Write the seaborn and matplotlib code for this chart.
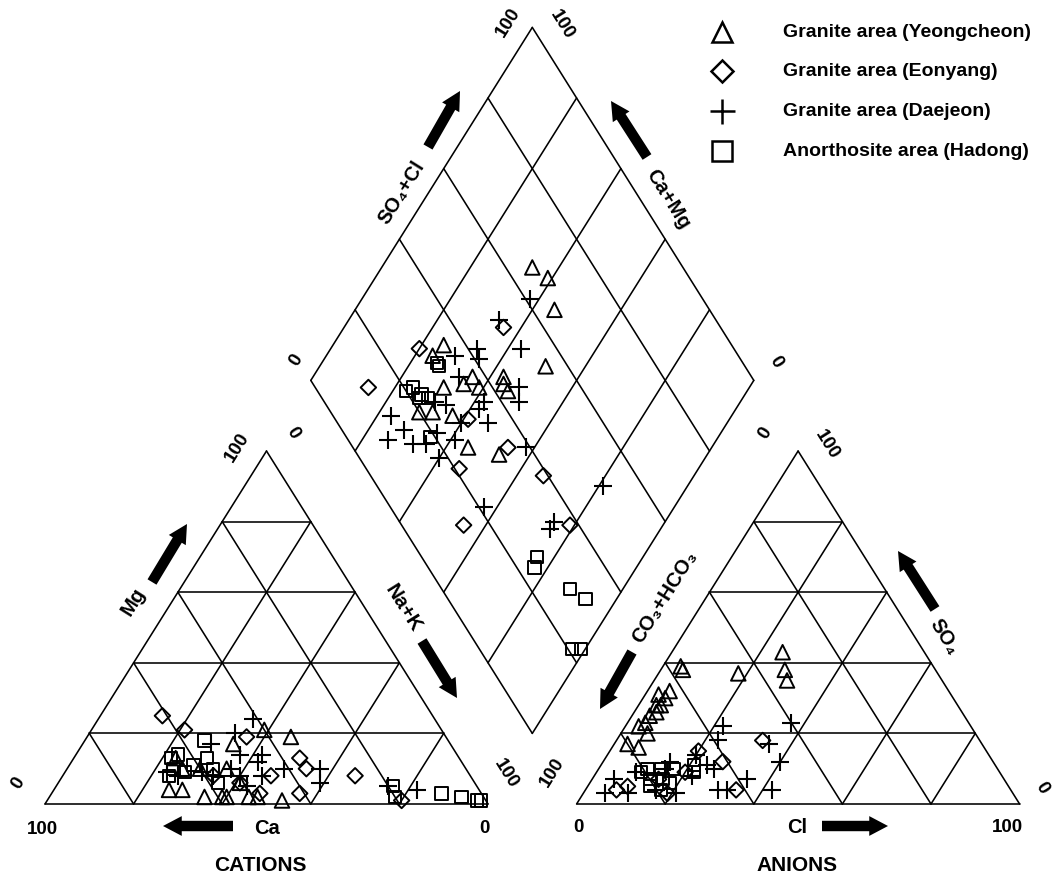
import numpy as np
import pandas as pd
import matplotlib
matplotlib.use("Agg")
import matplotlib.pyplot as plt
import seaborn as sns

# ---------------- data (percent of meq) ----------------
# Cation triangle: Mg %, Na+K %  (Ca = 100 - Mg - Na+K)
YC_MG = [21, 19, 17, 13, 10, 10, 10, 4, 4, 2, 2, 2, 2, 2, 1, 6]
YC_NAK = [39, 46, 34, 23, 26, 30, 36, 26, 29, 35, 39, 40, 45, 47, 53, 41]
EY_MG = [25, 21, 19, 13, 10, 8, 8, 3, 3, 1, 6, 8]
EY_NAK = [14, 21, 36, 51, 54, 47, 66, 56, 47, 80, 41, 34]
DJ_MG = [24, 20, 14, 14, 12, 10, 10, 6, 8, 5, 8, 17, 9, 8, 9, 8, 10, 5, 4]
DJ_NAK = [35, 33, 37, 42, 42, 49, 57, 59, 40, 43, 45, 29, 23, 26, 31, 34, 37, 75, 82]
HD_MG = [18, 14, 13, 13, 10, 11, 10, 9, 8, 6, 5, 2, 3, 2, 1, 1]
HD_NAK = [27, 23, 30, 22, 24, 28, 33, 27, 24, 36, 76, 78, 88, 93, 97, 98]

# Anion triangle: SO4 %, Cl %  (CO3+HCO3 = 100 - SO4 - Cl)
YC_SO4 = [39, 38, 37, 43, 38, 35, 32, 31, 30, 28, 26, 25, 22, 20, 17, 16, 23, 28]
YC_CL = [4, 5, 18, 25, 28, 30, 5, 3, 5, 4, 5, 4, 3, 6, 3, 6, 4, 5]
EY_SO4 = [18, 15, 12, 4, 4, 5, 9, 3, 7]
EY_CL = [33, 20, 27, 34, 7, 9, 20, 19, 15]
DJ_SO4 = [22, 18, 23, 17, 12, 4, 7, 4, 4, 10, 11, 14, 8, 12, 9, 7, 3, 3, 4, 3, 10]
DJ_CL = [22, 23, 37, 35, 40, 42, 35, 30, 32, 26, 24, 20, 22, 15, 9, 5, 5, 21, 16, 10, 15]
HD_SO4 = [10, 10, 10, 7, 7, 9, 11, 5, 4, 9, 6]
HD_CL = [11, 14, 17, 13, 16, 22, 21, 14, 17, 10, 18]

# Diamond: SO4+Cl %, Ca+Mg %
YC_SO4CL = [66, 68, 65, 55, 35, 29, 37, 34, 37, 44, 43, 43, 20, 23, 27, 26, 32, 31]
YC_CAMG = [66, 61, 55, 49, 75, 69, 64, 65, 61, 57, 56, 54, 71, 68, 63, 55, 47, 76]
EY_SO4CL = [29, 12, 51, 30, 21, 35, 39, 14, 38]
EY_CAMG = [80, 86, 64, 59, 54, 46, 34, 45, 21]
DJ_SO4CL = [61, 51, 52, 36, 42, 41, 34, 46, 44, 36, 27, 25, 13, 14, 9, 14, 17, 21, 24, 18,
            34, 39, 34, 28, 21, 51, 33, 35]
DJ_CAMG = [62, 66, 57, 71, 67, 65, 67, 52, 50, 58, 66, 69, 77, 72, 74, 68, 65, 64, 59, 60,
           54, 42, 58, 60, 43, 19, 25, 25]
HD_SO4CL = [20, 22, 23, 24, 22, 31, 31, 19, 26, 24, 29, 31, 21, 23]
HD_CAMG = [77, 76, 73, 71, 73, 73, 74, 65, 24, 23, 12, 7, 3, 1]

LABELS = ["Granite area (Yeongcheon)", "Granite area (Eonyang)",
          "Granite area (Daejeon)", "Anorthosite area (Hadong)"]

# ---------------- geometry ----------------
H = np.sqrt(3) / 2
GAP = 0.2
X_AN = 1.0 + GAP           # left corner of anion triangle
DB = (1.0 + GAP / 2, GAP * H)  # bottom vertex of diamond

def cation_xy(mg, nak):
    mg = np.asarray(mg) / 100.0
    nak = np.asarray(nak) / 100.0
    return nak + 0.5 * mg, H * mg

def anion_xy(so4, cl):
    so4 = np.asarray(so4) / 100.0
    cl = np.asarray(cl) / 100.0
    return X_AN + cl + 0.5 * so4, H * so4

def diamond_xy(a, c):
    a = np.asarray(a) / 100.0
    c = np.asarray(c) / 100.0
    return DB[0] + 0.5 * (a - c), DB[1] + H * (a + c)

def group_frame(mg, nak, so4, cl, a, c):
    parts = [cation_xy(mg, nak), anion_xy(so4, cl), diamond_xy(a, c)]
    xs = np.concatenate([p[0] for p in parts])
    ys = np.concatenate([p[1] for p in parts])
    return pd.DataFrame({"x": xs, "y": ys})

groups = [
    (group_frame(YC_MG, YC_NAK, YC_SO4, YC_CL, YC_SO4CL, YC_CAMG), "^", 110),
    (group_frame(EY_MG, EY_NAK, EY_SO4, EY_CL, EY_SO4CL, EY_CAMG), "D", 62),
    (group_frame(DJ_MG, DJ_NAK, DJ_SO4, DJ_CL, DJ_SO4CL, DJ_CAMG), "+", 150),
    (group_frame(HD_MG, HD_NAK, HD_SO4, HD_CL, HD_SO4CL, HD_CAMG), "s", 78),
]

# ---------------- figure ----------------
sns.set_theme(style="white")
plt.rcParams["font.family"] = ["Liberation Sans", "DejaVu Sans"]
plt.rcParams["text.color"] = "black"

W, HGT = 1052, 895
PX0, PXS = 45.0, 443.0
PY0, PYS = 805.0, 407.6

fig = plt.figure(figsize=(W / 100, HGT / 100), dpi=100)
ax = fig.add_axes([0, 0, 1, 1])

def P(px, py):
    return ((px - PX0) / PXS, (PY0 - py) / PYS)

LW = 1.15
# triangle grids
for x0 in (0.0, X_AN):
    for i in range(5):
        t = i / 5
        ax.plot([x0 + t / 2, x0 + 1 - t / 2], [t * H, t * H], color="black", lw=LW, zorder=1)
        ax.plot([x0 + t, x0 + t + (1 - t) / 2], [0, (1 - t) * H], color="black", lw=LW, zorder=1)
        ax.plot([x0 + 1 - t, x0 + (1 - t) / 2], [0, (1 - t) * H], color="black", lw=LW, zorder=1)
# diamond grid
R = np.array([0.5, H])
L = np.array([-0.5, H])
B = np.array(DB)
for i in range(6):
    t = i / 5
    p0 = B + t * R
    p1 = p0 + L
    ax.plot([p0[0], p1[0]], [p0[1], p1[1]], color="black", lw=LW, zorder=1)
    q0 = B + t * L
    q1 = q0 + R
    ax.plot([q0[0], q1[0]], [q0[1], q1[1]], color="black", lw=LW, zorder=1)

# data points
for df, mk, s in groups:
    if mk == "+":
        sns.scatterplot(data=df, x="x", y="y", ax=ax, marker=mk, s=s, color="black",
                        linewidth=1.5, legend=False, zorder=3)
    else:
        sns.scatterplot(data=df, x="x", y="y", ax=ax, marker=mk, s=s, color="black",
                        facecolor="none", edgecolor="black", linewidth=1.4,
                        legend=False, zorder=3)

# arrows (pixel positions of tail -> tip)
ARROWS = [((152, 583), (187, 525)), ((422, 642), (457, 699)), ((233, 827), (163, 827)),
          ((822, 827), (888, 827)), ((935, 610), (898, 552)), ((632, 653), (600, 710)),
          ((428, 148), (460, 92)), ((647, 158), (611, 102))]
for tail, tip in ARROWS:
    ax.annotate("", xy=P(*tip), xytext=P(*tail), xycoords="data",
                arrowprops=dict(arrowstyle="simple,head_length=0.9,head_width=0.95,tail_width=0.5",
                                mutation_scale=15, fc="black", ec="black", lw=0,
                                shrinkA=0, shrinkB=0), zorder=4)

# scale numbers
TICKS = [("100", 508, 22, 58), ("100", 562, 25, -58), ("0", 296, 360, 58), ("0", 776, 362, -58),
         ("100", 237, 447, 58), ("0", 293, 433, -58), ("0", 18, 783, 58), ("100", 506, 774, -58),
         ("0", 765, 433, 58), ("100", 827, 445, -58), ("100", 552, 772, 58), ("0", 1042, 788, -58),
         ("100", 42, 830, 0), ("0", 484, 829, 0), ("0", 578, 828, 0), ("100", 1007, 828, 0)]
for txt, px, py, rot in TICKS:
    ax.text(*P(px, py), txt, fontsize=13.5, fontweight="bold", rotation=rot,
            rotation_mode="anchor", ha="center", va="center", color="black")

# axis names
NAMES = [("Mg", 133, 602, 58), ("Na+K", 403, 608, -58), ("Ca", 267, 829, 0),
         ("SO\u2084+Cl", 402, 193, 58), ("Ca+Mg", 668, 199, -58),
         ("CO\u2083+HCO\u2083", 665, 597, 58), ("SO\u2084", 944, 637, -58), ("Cl", 797, 828, 0)]
for txt, px, py, rot in NAMES:
    ax.text(*P(px, py), txt, fontsize=14.5, fontweight="bold", rotation=rot,
            rotation_mode="anchor", ha="center", va="center", color="black")

ax.text(*P(260, 866), "CATIONS", fontsize=15, fontweight="bold", ha="center", va="center",
        color="black")
ax.text(*P(797, 866), "ANIONS", fontsize=15, fontweight="bold", ha="center", va="center",
        color="black")

# legend
LEG_Y = [33, 72, 112, 152]
LEG_MK = [("^", 15), ("D", 11.5), ("+", 18), ("s", 14.5)]
for (mk, ms), lab, ly in zip(LEG_MK, LABELS, LEG_Y):
    ax.plot(*P(722, ly), marker=mk, ms=ms, mfc="none", mec="black", mew=1.8,
            color="black", linestyle="none")
    ax.text(*P(783, ly), lab, fontsize=14, fontweight="bold", ha="left", va="center",
            color="black")

ax.set_xlim(-PX0 / PXS, (W - PX0) / PXS)
ax.set_ylim((PY0 - HGT) / PYS, PY0 / PYS)
ax.axis("off")

fig.savefig("out.png", dpi=100, facecolor="white")
